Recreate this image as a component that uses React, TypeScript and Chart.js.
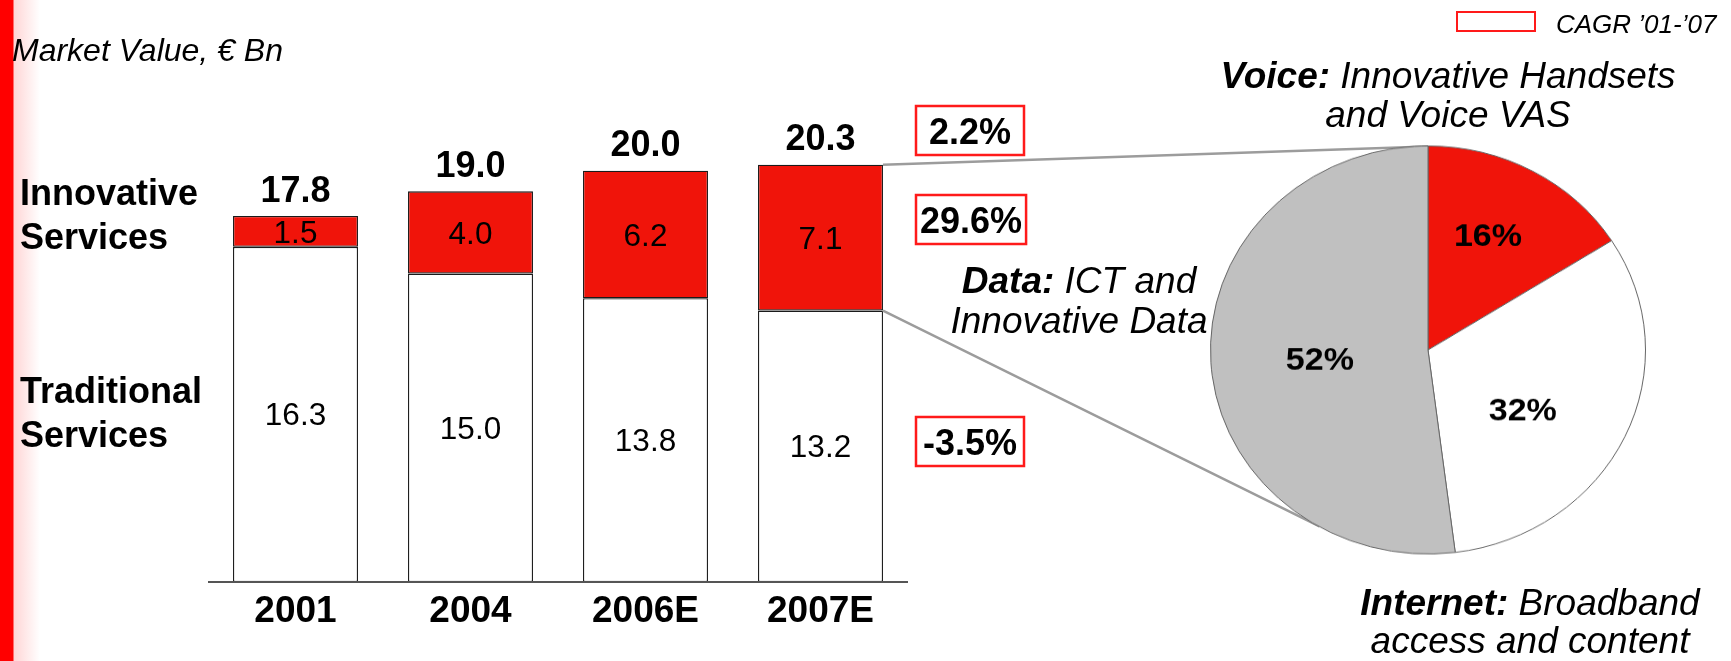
import React, { useEffect, useRef } from 'react';
import { Chart, registerables } from 'chart.js';

Chart.register(...registerables);

// ---- data ----
const categories = ['2001', '2004', '2006E', '2007E'];
const traditional = [16.3, 15.0, 13.8, 13.2];
const innovative = [1.5, 4.0, 6.2, 7.1];
const totals = [17.8, 19.0, 20.0, 20.3];
const cagrLabels = ['2.2%', '29.6%', '-3.5%'];
const mixLabels = ['Voice', 'Internet', 'Data'];
const mixShares = [16, 32, 52];

// ---- style / layout constants ----
const FF = '"Liberation Sans", Arial, Helvetica, sans-serif';
const RED = '#F0140A';
const GRAY = '#C0C0C0';
const W = 1731;
const H = 661;
const PIE_SIZE = 436;
const PIE_CX = 1428;
const PIE_CY = 350;
const PIE_R = 217;
const PIE_SY = 0.938;
// label placement inside the pie: radius fraction and angle nudge (degrees)
const PIE_LABEL_R = [0.62, 0.53, 0.5];
const PIE_LABEL_DA = [-2.4, 9.5, -2.4];

const barAnnotations = {
  id: 'barAnnotations',
  afterDatasetsDraw(chart: any) {
    const ctx = chart.ctx as CanvasRenderingContext2D;
    const ys = chart.scales.y;
    const area = chart.chartArea;
    const m0 = chart.getDatasetMeta(0);
    const m1 = chart.getDatasetMeta(1);
    ctx.save();

    // baseline axis
    const y0 = ys.getPixelForValue(0);
    ctx.strokeStyle = '#555';
    ctx.lineWidth = 2;
    ctx.beginPath();
    ctx.moveTo(area.left, y0);
    ctx.lineTo(area.right, y0);
    ctx.stroke();

    ctx.fillStyle = '#000';
    ctx.textBaseline = 'alphabetic';
    ctx.textAlign = 'center';
    for (let i = 0; i < categories.length; i++) {
      const e0 = m0.data[i];
      const e1 = m1.data[i];
      // segment labels
      ctx.font = `31.5px ${FF}`;
      ctx.fillText(traditional[i].toFixed(1), e0.x, (e0.y + e0.base) / 2 + 11);
      ctx.fillText(innovative[i].toFixed(1), e1.x, (e1.y + e1.base) / 2 + 11.5);
      // totals
      ctx.font = `bold 36px ${FF}`;
      ctx.fillText(totals[i].toFixed(1), e1.x, ys.getPixelForValue(totals[i]) - 14.5);
      // category labels
      ctx.font = `bold 37px ${FF}`;
      ctx.fillText(categories[i], e1.x, 622);
    }

    // left labels
    ctx.textAlign = 'left';
    ctx.font = `bold 36px ${FF}`;
    ctx.fillText('Innovative', 20, 205);
    ctx.fillText('Services', 20, 249);
    ctx.fillText('Traditional', 20, 403);
    ctx.fillText('Services', 20, 447);

    // unit label
    ctx.font = `italic 32px ${FF}`;
    ctx.fillText('Market Value, \u20AC Bn', 12, 61);

    // CAGR boxes
    const boxCenters = [130.5, 219.5, 441.5];
    ctx.font = `bold 36px ${FF}`;
    ctx.textAlign = 'center';
    cagrLabels.forEach((t, k) => {
      const tw = ctx.measureText(t).width;
      const bw = Math.max(108, tw + 8);
      const bx = 916;
      const by = boxCenters[k] - 24.5;
      ctx.strokeStyle = '#FF1A1A';
      ctx.lineWidth = 2.5;
      ctx.strokeRect(bx, by, bw, 49);
      ctx.fillStyle = '#000';
      ctx.fillText(t, bx + bw / 2, boxCenters[k] + 13);
    });

    // connector lines from last bar's innovative segment to the pie
    const last = m1.data[categories.length - 1];
    const rx = last.x + last.width / 2;
    const a2 = (210 * Math.PI) / 180;
    ctx.strokeStyle = '#9C9C9C';
    ctx.lineWidth = 2.5;
    ctx.beginPath();
    ctx.moveTo(rx, last.y);
    ctx.lineTo(PIE_CX, PIE_CY - PIE_R * PIE_SY);
    ctx.moveTo(rx, last.base);
    ctx.lineTo(PIE_CX + PIE_R * Math.sin(a2), PIE_CY - PIE_R * PIE_SY * Math.cos(a2));
    ctx.stroke();

    // legend
    ctx.strokeStyle = '#FF1A1A';
    ctx.lineWidth = 2;
    ctx.strokeRect(1457, 12, 78, 19);
    ctx.fillStyle = '#000';
    ctx.textAlign = 'left';
    ctx.font = `italic 26px ${FF}`;
    ctx.fillText('CAGR \u201901-\u201907', 1556, 33);

    // pie captions
    const mixed = (bold: string, rest: string, cx: number, y: number) => {
      ctx.font = `italic bold 37px ${FF}`;
      const w1 = ctx.measureText(bold).width;
      ctx.font = `italic 37px ${FF}`;
      const w2 = ctx.measureText(rest).width;
      const x0 = cx - (w1 + w2) / 2;
      ctx.textAlign = 'left';
      ctx.font = `italic bold 37px ${FF}`;
      ctx.fillText(bold, x0, y);
      ctx.font = `italic 37px ${FF}`;
      ctx.fillText(rest, x0 + w1, y);
    };
    const plain = (t: string, cx: number, y: number) => {
      ctx.font = `italic 37px ${FF}`;
      ctx.textAlign = 'center';
      ctx.fillText(t, cx, y);
    };
    mixed(mixLabels[0] + ':', ' Innovative Handsets', 1448, 88);
    plain('and Voice VAS', 1448, 127);
    mixed(mixLabels[2] + ':', ' ICT and', 1079, 293);
    plain('Innovative Data', 1079, 333);
    mixed(mixLabels[1] + ':', ' Broadband', 1530, 615);
    plain('access and content', 1530, 653);

    ctx.restore();
  },
};

const pieLabels = {
  id: 'pieLabels',
  afterDatasetsDraw(chart: any) {
    const ctx = chart.ctx as CanvasRenderingContext2D;
    const meta = chart.getDatasetMeta(0);
    ctx.save();
    ctx.fillStyle = '#000';
    ctx.font = `bold 34px ${FF}`;
    ctx.textAlign = 'center';
    ctx.textBaseline = 'middle';
    meta.data.forEach((arc: any, i: number) => {
      const mid = (arc.startAngle + arc.endAngle) / 2 + (PIE_LABEL_DA[i] * Math.PI) / 180;
      const r = arc.outerRadius * PIE_LABEL_R[i];
      ctx.fillText(mixShares[i] + '%', arc.x + Math.cos(mid) * r, arc.y + Math.sin(mid) * r);
    });
    ctx.restore();
  },
};

export default function App() {
  const barRef = useRef<HTMLCanvasElement>(null);
  const pieRef = useRef<HTMLCanvasElement>(null);

  useEffect(() => {
    const bar = new Chart(barRef.current!, {
      type: 'bar',
      data: {
        labels: categories,
        datasets: [
          {
            label: 'Traditional Services',
            data: traditional,
            backgroundColor: '#FFFFFF',
            borderColor: '#1A1A1A',
            borderWidth: 1.3,
            borderSkipped: false,
            barPercentage: 0.714,
            categoryPercentage: 1,
          },
          {
            label: 'Innovative Services',
            data: innovative,
            backgroundColor: RED,
            borderColor: '#1A1A1A',
            borderWidth: 1.3,
            borderSkipped: false,
            barPercentage: 0.714,
            categoryPercentage: 1,
          },
        ],
      },
      options: {
        responsive: false,
        animation: false,
        layout: { padding: { left: 208, right: W - 908, top: 68, bottom: H - 582 } },
        plugins: { legend: { display: false }, tooltip: { enabled: false } },
        scales: {
          x: { stacked: true, display: false },
          y: { stacked: true, display: false, min: 0, max: 25 },
        },
      },
      plugins: [barAnnotations],
    });

    const pie = new Chart(pieRef.current!, {
      type: 'pie',
      data: {
        labels: mixLabels,
        datasets: [
          {
            data: mixShares,
            backgroundColor: [RED, '#FFFFFF', GRAY],
            borderColor: '#666666',
            borderWidth: 1,
          },
        ],
      },
      options: {
        responsive: false,
        animation: false,
        layout: { padding: 0 },
        plugins: { legend: { display: false }, tooltip: { enabled: false } },
      },
      plugins: [pieLabels],
    });

    return () => {
      bar.destroy();
      pie.destroy();
    };
  }, []);

  return (
    <div style={{ position: 'fixed', left: 0, top: 0, width: W, height: H, background: '#fff', overflow: 'hidden' }}>
      <div
        style={{
          position: 'absolute',
          left: 0,
          top: 0,
          width: 40,
          height: H,
          background: 'linear-gradient(to right, #FF0000 0px, #FF0000 13px, #FFD6D6 14px, #FFFFFF 40px)',
        }}
      />
      <canvas ref={barRef} width={W} height={H} style={{ position: 'absolute', left: 0, top: 0 }} />
      <canvas
        ref={pieRef}
        width={PIE_SIZE}
        height={PIE_SIZE}
        style={{
          position: 'absolute',
          left: PIE_CX - PIE_SIZE / 2,
          top: PIE_CY - PIE_SIZE / 2,
          transform: `scaleY(${PIE_SY})`,
          transformOrigin: 'center center',
        }}
      />
    </div>
  );
}
